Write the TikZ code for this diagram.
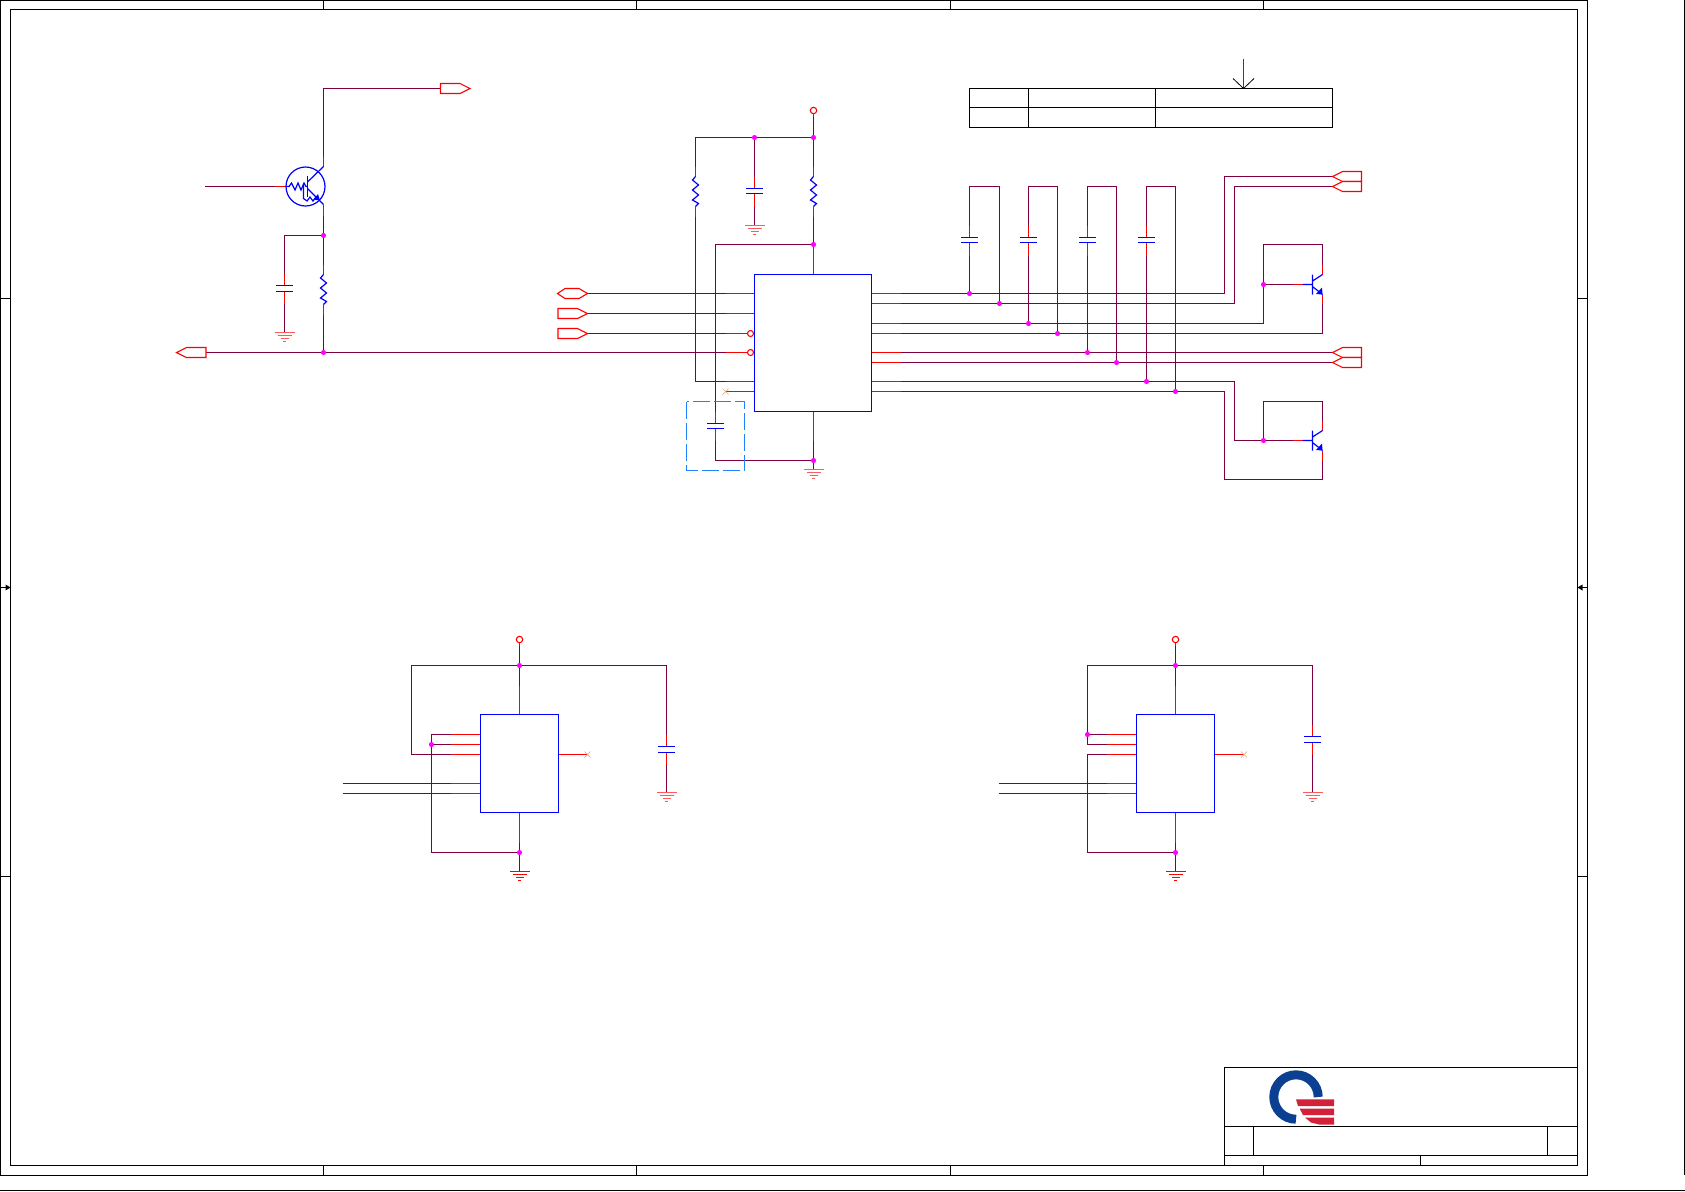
\documentclass[tikz,border=0pt]{standalone}
\definecolor{wirec}{HTML}{7F0040}
\definecolor{dashc}{HTML}{1E82FF}
\definecolor{logob}{HTML}{0B3F91}
\definecolor{logor}{HTML}{D3213A}
\definecolor{dotc}{HTML}{FF00FF}
\definecolor{pure}{HTML}{FF0000}
\definecolor{publ}{HTML}{0000FF}
\tikzset{
  wire/.style={draw=wirec,line width=0.6pt,line join=miter},
  stub/.style={draw=pure,line width=0.72pt},
  sym/.style={draw=publ,line width=0.6pt},
  icbox/.style={draw=publ,line width=0.7pt},
  frameline/.style={draw=black,line width=0.6pt},
  portline/.style={draw=pure,line width=0.55pt,fill=white},
  dot/.style={circle,fill=dotc,draw=none,inner sep=0pt,minimum size=2.4pt},
  hollow/.style={circle,draw=pure,fill=white,line width=0.55pt,inner sep=0pt,minimum size=3pt},
}
\newcommand{\vcapa}[5]{
  \draw[stub] (#1,#2) -- (#1,#3) (#1,#4) -- (#1,#5);
  \draw[sym] (#1-8.3,#3) -- (#1+8.3,#3) (#1-8.3,#4) -- (#1+8.3,#4);
}
\newcommand{\vresi}[2]{
  \draw[stub] (#1,#2) -- (#1,#2+10) (#1,#2+40) -- (#1,#2+50);
  \draw[sym] (#1,#2+10) -- (#1-3,#2+13.5) -- (#1+3,#2+18.5) -- (#1-3,#2+23.5) -- (#1+3,#2+28.5) -- (#1-3,#2+33.5) -- (#1+3,#2+37) -- (#1,#2+40);
}
\newcommand{\gnda}[3]{
  \draw[#3,line width=0.7pt] (#1-10,#2) -- (#1+10,#2) (#1-7,#2+3) -- (#1+7,#2+3) (#1-4,#2+6) -- (#1+4,#2+6) (#1-1.5,#2+9) -- (#1+1.5,#2+9);
}
\newcommand{\pwra}[2]{
  \draw[stub] (#1,#2) -- (#1,#2+6);
  \node[draw=pure,fill=white,circle,line width=0.55pt,inner sep=0pt,minimum size=3.2pt] at (#1,#2) {};
}
\newcommand{\portr}[3]{\draw[portline] (#1,#2-5) -- (#3-10,#2-5) -- (#3,#2) -- (#3-10,#2+5) -- (#1,#2+5) -- cycle;}
\newcommand{\portl}[3]{\draw[portline] (#1,#2) -- (#1+10,#2-5) -- (#3,#2-5) -- (#3,#2+5) -- (#1+10,#2+5) -- cycle;}
\newcommand{\smallq}[2]{
  \draw[sym] (#1-10,#2) -- (#1,#2) (#1,#2-10) -- (#1,#2+10) (#1,#2-3.5) -- (#1+10,#2-10) (#1,#2+2) -- (#1+10,#2+10);
  \fill[publ] (#1+10,#2+10) -- (#1+3.5,#2+9.5) -- (#1+9.5,#2+3) -- cycle;
}
\newcommand{\ncx}[2]{\draw[draw=brown!60!white,line width=0.35pt] (#1-3,#2-3) -- (#1+3,#2+3) (#1-3,#2+3) -- (#1+3,#2-3);}
\begin{document}
\begin{tikzpicture}[x=0.5pt,y=-0.5pt]
\path[use as bounding box] (0,0) rectangle (1685,1191);
% ---------- sheet frame
\draw[frameline] (0.5,0.5) rectangle (1587.5,1175.5);
\draw[frameline] (10.5,9.5) rectangle (1577.5,1165.5);
\draw[frameline] (1684.5,0) -- (1684.5,1175);
\draw[frameline] (0,1190.5) -- (1685,1190.5);
\foreach \tx in {323.5,636.5,950.5,1263.5} {
  \draw[frameline] (\tx,0.5) -- (\tx,9.5);
  \draw[frameline] (\tx,1165.5) -- (\tx,1175.5);
}
\foreach \ty in {298.5,876.5} {
  \draw[frameline] (0.5,\ty) -- (10.5,\ty);
  \draw[frameline] (1577.5,\ty) -- (1587.5,\ty);
}
\draw[frameline] (0.5,587.5) -- (10.5,587.5);
\fill[black] (10.5,587.5) -- (5.5,584.5) -- (5.5,590.5) -- cycle;
\draw[frameline] (1587.5,587.5) -- (1577.5,587.5);
\fill[black] (1577.5,587.5) -- (1582.5,584.5) -- (1582.5,590.5) -- cycle;
% ---------- title block
\draw[frameline] (1224.5,1165.5) -- (1224.5,1067.5) -- (1577.5,1067.5);
\draw[frameline] (1224.5,1126.5) -- (1577.5,1126.5);
\draw[frameline] (1224.5,1155.5) -- (1577.5,1155.5);
\draw[frameline] (1253.5,1126.5) -- (1253.5,1155.5);
\draw[frameline] (1547.5,1126.5) -- (1547.5,1155.5);
\draw[frameline] (1420.5,1155.5) -- (1420.5,1165.5);
% logo
\draw[logob,line width=4.5pt] (1318.2,1097) arc (0:-270:22.2);
\fill[logor] (1296,1099.3) -- (1334,1099.3) -- (1334,1106) -- (1298,1106) -- cycle;
\fill[logor] (1299.5,1108.5) -- (1334,1108.5) -- (1334,1115) -- (1303,1115) -- cycle;
\fill[logor] (1305,1117.5) -- (1334,1117.5) -- (1334,1124.7) -- (1320,1124.7) -- (1311,1122.5) -- cycle;
% ---------- table and arrow
\draw[frameline] (969.5,88.5) rectangle (1332.5,127.5);
\draw[frameline] (969.5,107.5) -- (1332.5,107.5);
\draw[frameline] (1028.5,88.5) -- (1028.5,127.5);
\draw[frameline] (1155.5,88.5) -- (1155.5,127.5);
\coordinate (arT) at (1243.5,58.5);
\coordinate (arB) at (1243.5,88.5);
\draw[black!75,line width=0.55pt] (arT) -- (arB);
\draw[black,line width=0.4pt] (1233,78.5) -- (arB) -- (1254,78.5);
% ---------- transistor block
\node[dot] (j1) at (323.5,235.5) {};
\node[dot] (j2) at (323.5,352.5) {};
\coordinate (qtop) at (323.5,88.5);
\coordinate (pout) at (440.5,88.5);
\coordinate (cL) at (284.5,235.5);
\coordinate (pin) at (206,352.5);
\draw[wire] (323.5,156.5) -- (qtop) -- (pout);
\draw[wire] (323.5,215.5) -- (j1.center) -- (323.5,264.5);
\draw[wire] (323.5,314.5) -- (j2.center);
\draw[wire] (j1.center) -- (cL) -- (284.5,273.5);
\draw[wire] (284.5,303.5) -- (284.5,332.5);
\draw[wire] (205,186.5) -- (274.5,186.5);
\draw[wire] (pin) -- (725.5,352.5);
\draw[stub] (323.5,156.5) -- (323.5,166.5);
\draw[stub] (323.5,204.5) -- (323.5,215.5);
\draw[stub] (274.5,186.5) -- (285.5,186.5);
\vcapa{284.5}{273.5}{285.5}{291.5}{303.5}
\vresi{323.5}{264.5}
\gnda{284.5}{332.5}{pure!65}
\draw[sym] (305.5,186.5) circle (19.5);
\draw[sym] (323.5,166.5) -- (307.5,182);
\draw[sym] (307.5,175.5) -- (307.5,196.5);
\draw[sym] (307.5,188.5) -- (323.5,204.5);
\draw[sym] (285.5,186.5) -- (289,186.5) -- (291.5,183) -- (295,190) -- (298,183) -- (301,190) -- (304,183) -- (306,186.5) -- (307.5,186.5);
\draw[sym] (303.5,183.5) -- (303.5,198.5) -- (307,201) -- (310,197) -- (313,201) -- (316,197) -- (318.5,198.5);
\fill[publ] (320,200.5) -- (313.5,199.5) -- (318,194) -- cycle;
\portr{440.5}{88.5}{470}
\portl{176.5}{352.5}{206}
% ---------- main IC
\node[dot] (j3) at (813.5,137.5) {};
\node[dot] (j4) at (754.5,137.5) {};
\node[dot] (j5) at (813.5,244.5) {};
\node[dot] (j6) at (813.5,460.5) {};
\coordinate (p1) at (813.5,116.5);
\coordinate (l1) at (695.5,137.5);
\coordinate (l2) at (695.5,381.5);
\coordinate (l3) at (725.5,381.5);
\coordinate (u1) at (715.5,244.5);
\coordinate (u2) at (715.5,460.5);
\coordinate (icb) at (813.5,469.5);
\draw[wire] (p1) -- (j3.center) -- (813.5,166.5);
\draw[wire] (813.5,216.5) -- (j5.center);
\draw[wire] (j3.center) -- (l1) -- (695.5,166.5);
\draw[wire] (695.5,216.5) -- (l2) -- (l3);
\draw[wire] (j4.center) -- (754.5,176.5);
\draw[wire] (754.5,206.5) -- (754.5,225.5);
\draw[wire] (j5.center) -- (u1) -- (715.5,411.5);
\draw[wire] (715.5,440.5) -- (u2) -- (j6.center);
\draw[wire] (813.5,440.5) -- (j6.center) -- (icb);
\pwra{813.5}{110.5}
\vresi{695.5}{166.5}
\vresi{813.5}{166.5}
\vcapa{754.5}{176.5}{188.5}{193.5}{206.5}
\vcapa{715.5}{411.5}{423.5}{428.5}{440.5}
\gnda{754.5}{225.5}{pure!65}
\gnda{813.5}{469.5}{pure!65}
\draw[stub] (813.5,244.5) -- (813.5,274.5);
\draw[stub] (813.5,411.5) -- (813.5,440.5);
% left pins
\coordinate (a1) at (587.5,293.5);
\coordinate (a2) at (587.5,313.5);
\coordinate (a3) at (587.5,333.5);
\foreach \n/\yy in {a1/293.5,a2/313.5,a3/333.5} {
  \draw[wire] (\n) -- (725.5,\yy);
}
\draw[stub] (725.5,293.5) -- (754.5,293.5);
\draw[stub] (725.5,313.5) -- (754.5,313.5);
\draw[stub] (725.5,333.5) -- (748,333.5);
\draw[stub] (725.5,352.5) -- (748,352.5);
\draw[stub] (725.5,381.5) -- (754.5,381.5);
\draw[stub] (725.5,391.5) -- (754.5,391.5);
\ncx{725.5}{391.5}
\node[hollow] at (750.5,333.5) {};
\node[hollow] at (750.5,352.5) {};
\draw[portline] (557.5,293.5) -- (565,288.5) -- (579,288.5) -- (587.5,293.5) -- (579,298.5) -- (565,298.5) -- cycle;
\portr{558}{313.5}{587.5}
\portr{558}{333.5}{587.5}
\draw[icbox] (754.5,274.5) rectangle (871.5,411.5);
\draw[draw=dashc,line width=0.55pt,dash pattern=on 8.5pt off 2pt] (686.5,401.5) rectangle (744.5,470.5);
% right nets
\node[dot] (r1) at (969.5,293.5) {};
\node[dot] (r2) at (999.5,303.5) {};
\node[dot] (r3) at (1028.5,323.5) {};
\node[dot] (r4) at (1057.5,333.5) {};
\node[dot] (r5) at (1087.5,352.5) {};
\node[dot] (r6) at (1116.5,362.5) {};
\node[dot] (r7) at (1146.5,381.5) {};
\node[dot] (r8) at (1175.5,391.5) {};
\node[dot] (t1) at (1263.5,284.5) {};
\node[dot] (t2) at (1263.5,440.5) {};
\foreach \ca/\cb/\ja/\jb in {969.5/999.5/r1/r2,1028.5/1057.5/r3/r4,1087.5/1116.5/r5/r6,1146.5/1175.5/r7/r8} {
  \draw[wire] (\ja.center) -- (\ca,255.5);
  \draw[wire] (\ca,225.5) -- (\ca,186.5) -- (\cb,186.5) -- (\jb.center);
  \vcapa{\ca}{225.5}{237.5}{242.5}{255.5}
}
\coordinate (o0) at (900.5,293.5);
\coordinate (o1) at (900.5,303.5);
\coordinate (o2) at (900.5,323.5);
\coordinate (o3) at (900.5,333.5);
\coordinate (o4) at (900.5,352.5);
\coordinate (o5) at (900.5,362.5);
\coordinate (o6) at (900.5,381.5);
\coordinate (o7) at (900.5,391.5);
\draw[wire] (o0) -- (r1.center) -- (1224.5,293.5) -- (1224.5,176.5) -- (1332.5,176.5);
\draw[wire] (o1) -- (r2.center) -- (1234.5,303.5) -- (1234.5,186.5) -- (1332.5,186.5);
\draw[wire] (o2) -- (r3.center) -- (1263.5,323.5) -- (t1.center) -- (1292.5,284.5);
\draw[wire] (t1.center) -- (1263.5,244.5) -- (1322.5,244.5) -- (1322.5,264.5);
\draw[wire] (o3) -- (r4.center) -- (1322.5,333.5) -- (1322.5,303.5);
\draw[wire] (o4) -- (r5.center) -- (1332.5,352.5);
\draw[wire] (o5) -- (r6.center) -- (1332.5,362.5);
\draw[wire] (o6) -- (r7.center) -- (1234.5,381.5) -- (1234.5,440.5) -- (t2.center) -- (1292.5,440.5);
\draw[wire] (t2.center) -- (1263.5,401.5) -- (1322.5,401.5) -- (1322.5,420.5);
\draw[wire] (o7) -- (r8.center) -- (1224.5,391.5) -- (1224.5,479.5) -- (1322.5,479.5) -- (1322.5,460.5);
\foreach \yy in {293.5,303.5,323.5,333.5,352.5,362.5,381.5,391.5} {
  \draw[stub] (871.5,\yy) -- (900.5,\yy);
}
\foreach \yy in {176.5,186.5,352.5,362.5} {
  \portl{1332.5}{\yy}{1361.5}
}
\draw[stub] (1292.5,284.5) -- (1302.5,284.5);
\draw[stub] (1322.5,264.5) -- (1322.5,274.5) (1322.5,294.5) -- (1322.5,303.5);
\smallq{1312.5}{284.5}
\draw[stub] (1292.5,440.5) -- (1302.5,440.5);
\draw[stub] (1322.5,420.5) -- (1322.5,430.5) (1322.5,450.5) -- (1322.5,460.5);
\smallq{1312.5}{440.5}
% ---------- lower-left IC
\node[dot] (b1) at (519.5,665.5) {};
\node[dot] (b2) at (431.5,744.5) {};
\node[dot] (b3) at (519.5,852.5) {};
\coordinate (b4) at (411.5,665.5);
\coordinate (b5) at (411.5,754.5);
\coordinate (b6) at (450.5,754.5);
\coordinate (b7) at (666.5,665.5);
\coordinate (b9) at (431.5,734.5);
\coordinate (b10) at (431.5,852.5);
\draw[wire] (519.5,645.5) -- (b1.center) -- (519.5,685.5);
\draw[wire] (b1.center) -- (b4) -- (b5) -- (b6);
\draw[wire] (b1.center) -- (b7) -- (666.5,734.5);
\draw[wire] (666.5,764.5) -- (666.5,792.5);
\draw[wire] (450.5,734.5) -- (b9) -- (b10) -- (b3.center);
\draw[wire] (b2.center) -- (450.5,744.5);
\draw[wire] (342.5,783.5) -- (450.5,783.5);
\draw[wire] (342.5,793.5) -- (450.5,793.5);
\draw[wire] (519.5,842.5) -- (b3.center) -- (519.5,871.5);
\pwra{519.5}{639.5}
\draw[stub] (519.5,685.5) -- (519.5,714.5);
\draw[stub] (519.5,812.5) -- (519.5,842.5);
\foreach \yy in {734.5,744.5,754.5,783.5,793.5} {
  \draw[stub] (450.5,\yy) -- (480.5,\yy);
}
\draw[stub] (558.5,754.5) -- (586.5,754.5);
\ncx{587.5}{754.5}
\draw[icbox] (480.5,714.5) rectangle (558.5,812.5);
\vcapa{666.5}{734.5}{746.5}{752.5}{764.5}
\gnda{666.5}{792.5}{pure!65}
\gnda{519.5}{871.5}{pure}
% ---------- lower-right IC
\node[dot] (d1) at (1175.5,665.5) {};
\node[dot] (d2) at (1087.5,734.5) {};
\node[dot] (d3) at (1175.5,852.5) {};
\coordinate (d4) at (1087.5,665.5);
\coordinate (d5) at (1087.5,744.5);
\coordinate (d6) at (1106.5,744.5);
\coordinate (d7) at (1312.5,665.5);
\coordinate (d9) at (1087.5,754.5);
\coordinate (d10) at (1087.5,852.5);
\draw[wire] (1175.5,645.5) -- (d1.center) -- (1175.5,685.5);
\draw[wire] (d1.center) -- (d4) -- (d5) -- (d6);
\draw[wire] (d1.center) -- (d7) -- (1312.5,724.5);
\draw[wire] (1312.5,754.5) -- (1312.5,792.5);
\draw[wire] (d2.center) -- (1106.5,734.5);
\draw[wire] (1106.5,754.5) -- (d9) -- (d10) -- (d3.center);
\draw[wire] (998.5,783.5) -- (1106.5,783.5);
\draw[wire] (998.5,793.5) -- (1106.5,793.5);
\draw[wire] (1175.5,842.5) -- (d3.center) -- (1175.5,871.5);
\pwra{1175.5}{639.5}
\draw[stub] (1175.5,685.5) -- (1175.5,714.5);
\draw[stub] (1175.5,812.5) -- (1175.5,842.5);
\foreach \yy in {734.5,744.5,754.5,783.5,793.5} {
  \draw[stub] (1106.5,\yy) -- (1136.5,\yy);
}
\draw[stub] (1214.5,754.5) -- (1243.5,754.5);
\ncx{1244}{754.5}
\draw[icbox] (1136.5,714.5) rectangle (1214.5,812.5);
\vcapa{1312.5}{724.5}{736.5}{742.5}{754.5}
\gnda{1312.5}{792.5}{pure!65}
\gnda{1175.5}{871.5}{pure}
% junction dots on top
\foreach \j in {j1,j2,j3,j4,j5,j6,r1,r2,r3,r4,r5,r6,r7,r8,t1,t2,b1,b2,b3,d1,d2,d3} {
  \node[dot] at (\j) {};
}
\end{tikzpicture}
\end{document}
